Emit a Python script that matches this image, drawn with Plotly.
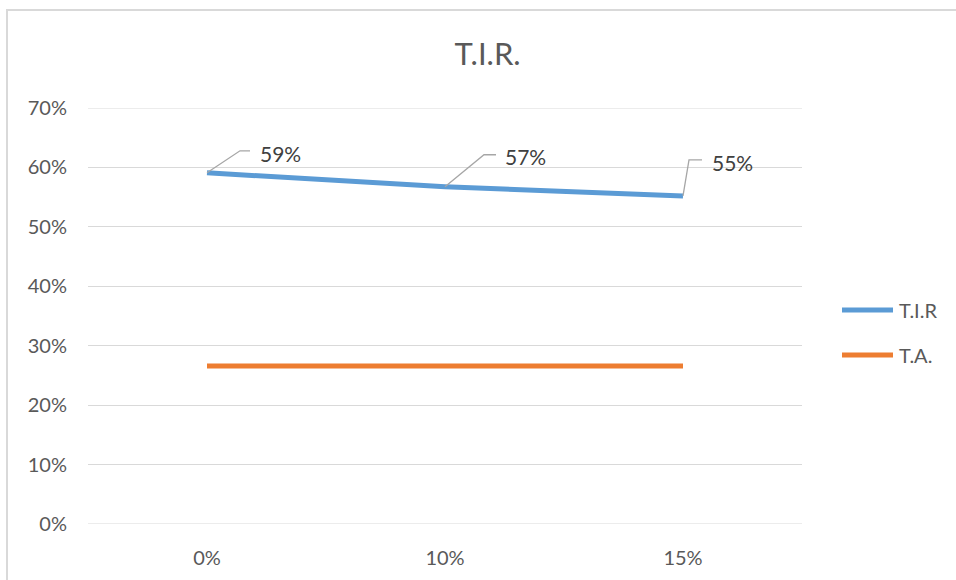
import plotly.graph_objects as go

# Discount-rate scenarios on the category axis
categories = ["0%", "10%", "15%"]
# Internal rate of return for each scenario
tir_values = [0.591, 0.5675, 0.552]
# Reference rate (flat across scenarios)
ta_values = [0.266, 0.266, 0.266]
y_ticks = [0, 0.1, 0.2, 0.3, 0.4, 0.5, 0.6, 0.7]
Y_MIN, Y_MAX = 0, 0.7

BLUE = "#5B9BD5"
ORANGE = "#ED7D31"
GRID = "#D9D9D9"
TEXT = "#595959"
FONT = "Lato"

W, H = 956, 580
ML, MR, MT, MB = 88, 154, 108, 56
PW, PH = W - ML - MR, H - MT - MB


def px_x(p):
    return (p - ML) / PW


def px_y(p):
    return (H - MB - p) / PH


fig = go.Figure()
fig.add_trace(go.Scatter(
    x=categories, y=tir_values, mode="lines", name="T.I.R",
    line=dict(color=BLUE, width=5, shape="spline", smoothing=0.6),
    showlegend=False, hoverinfo="skip",
))
fig.add_trace(go.Scatter(
    x=categories, y=ta_values, mode="lines", name="T.A.",
    line=dict(color=ORANGE, width=5),
    showlegend=False, hoverinfo="skip",
))

shapes = []
annotations = []

# Gridlines at the edges of the value range (plotly skips those at the border)
for yv in (Y_MIN, Y_MAX):
    shapes.append(dict(
        type="line", xref="paper", yref="y", x0=0, x1=1, y0=yv, y1=yv,
        layer="below", line=dict(color=GRID, width=1),
    ))

# Data labels with elbow leader lines (offsets in pixels from each point)
leader_offsets = [(33, 22, 43, 51, 19), (39, 32, 51, 58, 30), (6, 36, 19, 27, 33)]
for cat, val, (ex, ey, hx, tx, ty) in zip(categories, tir_values, leader_offsets):
    shapes.append(dict(
        type="path", xref="x", yref="y", xsizemode="pixel", ysizemode="pixel",
        xanchor=cat, yanchor=val,
        path=f"M0,0 L{ex},{ey} L{hx},{ey}",
        line=dict(color="#A6A6A6", width=1.3),
    ))
    annotations.append(dict(
        x=cat, y=val, xref="x", yref="y", text=f"{val:.0%}", showarrow=False,
        xanchor="left", yanchor="middle", xshift=tx, yshift=ty,
        font=dict(family=FONT, size=21, color="#404040"),
    ))

# Legend drawn as line samples with labels
legend_items = [("T.I.R", BLUE, 310), ("T.A.", ORANGE, 355)]
for label, color, py in legend_items:
    shapes.append(dict(
        type="line", xref="paper", yref="paper",
        x0=px_x(842), x1=px_x(893), y0=px_y(py), y1=px_y(py),
        line=dict(color=color, width=5),
    ))
    annotations.append(dict(
        x=px_x(897), y=px_y(py), xref="paper", yref="paper", text=label,
        showarrow=False, xanchor="left", yanchor="middle",
        font=dict(family=FONT, size=20, color=TEXT),
    ))

# Chart-area border
shapes.append(dict(
    type="rect", xref="paper", yref="paper", layer="below",
    x0=px_x(7), y0=-1, x1=2, y1=px_y(10),
    line=dict(color=GRID, width=2),
))

fig.update_layout(
    width=W, height=H,
    margin=dict(l=ML, r=MR, t=MT, b=MB),
    paper_bgcolor="white", plot_bgcolor="white",
    title=dict(text="T.I.R.", x=0.51, xanchor="center", y=1 - 54 / H,
               yanchor="middle", font=dict(family=FONT, size=31, color=TEXT)),
    shapes=shapes, annotations=annotations,
    showlegend=False,
)
fig.update_xaxes(
    type="category", range=[-0.5, 2.5], showgrid=False, zeroline=False,
    showline=False, ticks="", ticklabelstandoff=20,
    tickfont=dict(family=FONT, size=20, color=TEXT),
)
fig.update_yaxes(
    range=[Y_MIN, Y_MAX], tickvals=y_ticks, tickformat=".0%", showgrid=True,
    gridcolor=GRID, gridwidth=1, zeroline=False, showline=False, ticks="",
    ticklabelstandoff=20, tickfont=dict(family=FONT, size=20, color=TEXT),
)

fig.write_html("out.html")
